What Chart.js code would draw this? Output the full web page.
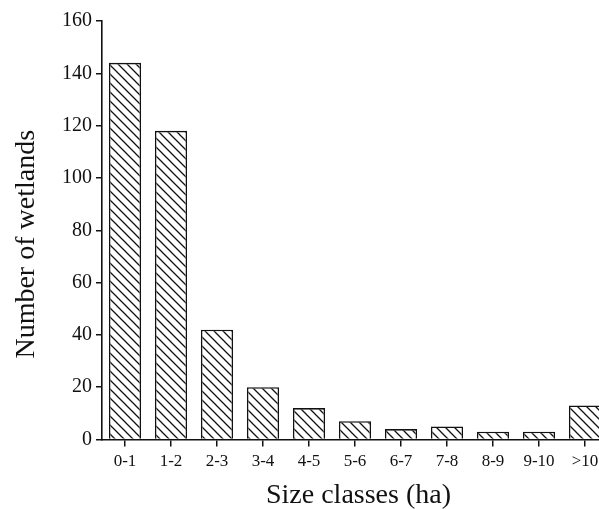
<!DOCTYPE html>
<html>
<head>
<meta charset="utf-8">
<script src="https://cdn.jsdelivr.net/npm/chart.js@4/dist/chart.umd.min.js"></script>
<style>
  html, body { margin: 0; padding: 0; background: #fff; overflow: hidden; }
</style>
</head>
<body>
<canvas id="wetlandChart" width="620" height="509"></canvas>
<script>
var sizeClasses = ['0-1', '1-2', '2-3', '3-4', '4-5', '5-6', '6-7', '7-8', '8-9', '9-10', '>10'];
var wetlandCounts = [144, 118, 42, 20, 12, 7, 4, 5, 3, 3, 13];
var yTicks = [0, 20, 40, 60, 80, 100, 120, 140, 160];

// diagonal hatch like the printed figure
function makeHatch() {
    var size = 9;
    var c = document.createElement('canvas');
    c.width = size;
    c.height = size;
    var g = c.getContext('2d');
    g.fillStyle = '#fff';
    g.fillRect(0, 0, size, size);
    g.strokeStyle = '#111';
    g.lineWidth = 1.3;
    g.beginPath();
    g.moveTo(-1, -1); g.lineTo(size + 1, size + 1);
    g.moveTo(-1, size - 1); g.lineTo(1, size + 1);
    g.moveTo(size - 1, -1); g.lineTo(size + 1, 1);
    g.stroke();
    return g.createPattern(c, 'repeat');
}

var ctx = document.getElementById('wetlandChart').getContext('2d');
var serif = '"Liberation Serif", "Times New Roman", serif';

new Chart(ctx, {
    type: 'bar',
    data: {
        labels: sizeClasses,
        datasets: [{
            label: 'Number of wetlands',
            data: wetlandCounts,
            backgroundColor: makeHatch(),
            borderColor: '#111',
            borderWidth: 1.6,
            barPercentage: 0.7,
            categoryPercentage: 1.0
        }]
    },
    options: {
        responsive: false,
        animation: false,
        layout: { padding: { top: 21, right: 12, left: 0, bottom: 0 } },
        plugins: {
            legend: { display: false },
            tooltip: { enabled: false }
        },
        scales: {
            x: {
                offset: true,
                grid: { display: true, drawOnChartArea: false, drawTicks: true, tickLength: 7, color: '#111', lineWidth: 1.5, offset: false },
                border: { display: true, color: '#111', width: 1.6 },
                ticks: { color: '#111', font: { family: serif, size: 17 }, padding: 5, maxRotation: 0, autoSkip: false },
                // leading space nudges the title a little right, as in the original
                title: { display: true, text: '\u00a0Size classes (ha)', color: '#111', font: { family: serif, size: 28 }, padding: { top: 4, bottom: -3 } },
                afterFit: function(scale) { scale.height = 69.5; }
            },
            y: {
                min: 0,
                max: 160,
                afterBuildTicks: function(scale) {
                    scale.ticks = yTicks.map(function(v) { return { value: v }; });
                },
                grid: { display: true, drawOnChartArea: false, drawTicks: true, tickLength: 6, color: '#111', lineWidth: 1.5 },
                border: { display: true, color: '#111', width: 1.6 },
                ticks: { color: '#111', font: { family: serif, size: 20 }, padding: 4 },
                // trailing spaces push the rotated title down a bit
                title: { display: true, text: 'Number of wetlands\u00a0\u00a0\u00a0\u00a0', color: '#111', font: { family: serif, size: 28 }, padding: { top: 10, bottom: 0 } },
                afterFit: function(scale) { scale.width = 102; }
            }
        }
    }
});
</script>
</body>
</html>
